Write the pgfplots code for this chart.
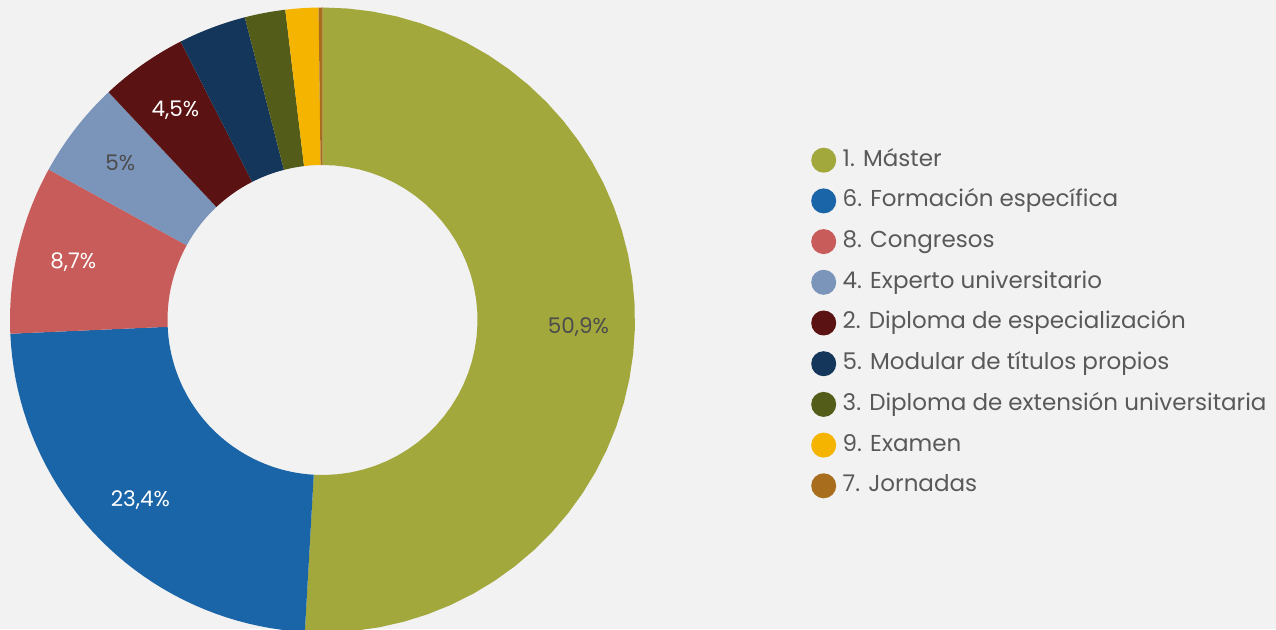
\documentclass[border=0pt]{standalone}
\usepackage{pgfplots}
\pgfplotsset{compat=1.18}
\usepackage{fontspec}
\setmainfont{Poppins}
\definecolor{bg}{HTML}{F2F2F2}
\definecolor{txt}{HTML}{595959}
\definecolor{c1}{HTML}{A2A83C}
\definecolor{c6}{HTML}{1A64A8}
\definecolor{c8}{HTML}{C85C5A}
\definecolor{c4}{HTML}{7A94BA}
\definecolor{c2}{HTML}{5A1212}
\definecolor{c5}{HTML}{14365A}
\definecolor{c3}{HTML}{535C19}
\definecolor{c9}{HTML}{F4B400}
\definecolor{c7}{HTML}{A86E1E}
% slice: start percent, end percent, colour, legend text
\newcommand\slice[4]{%
  \addplot[fill=#3, draw=none, samples at={0,1,...,81}, variable=\t]
   ({322.5+ifthenelse(\t<41,312.5,155)*sin(3.6*ifthenelse(\t<41,#1+(\t/40)*(#2-#1),#2-((\t-41)/40)*(#2-#1)))},
    {309+ifthenelse(\t<41,312.5,155)*cos(3.6*ifthenelse(\t<41,#1+(\t/40)*(#2-#1),#2-((\t-41)/40)*(#2-#1)))});
  \addlegendentry{#4}%
}
\newcommand\plabel[3]{% mid percent, colour, text
  \node[text=#2, font=\fontsize{21.5}{24}\selectfont] at (axis cs:{322.5+256*sin(3.6*#1)},{309+256*cos(3.6*#1)}) {#3};%
}
\begin{document}
\begin{tikzpicture}
\begin{axis}[
  width=1276pt, height=629pt, scale only axis,
  xmin=0, xmax=1276, ymin=0, ymax=629,
  axis lines=none, clip=true,
  axis background/.style={fill=bg},
  legend cell align=left,
  legend style={at={(axis cs:808,486)}, anchor=north west, draw=none, fill=none,
    font=\fontsize{23}{27}\selectfont, text=txt, row sep=10.7pt, column sep=0pt,
    nodes={text height=18pt, text depth=6pt, inner sep=3pt}},
  legend image code/.code={\path[fill=none,draw=none] (-12pt,-12pt) rectangle (16pt,12pt);\fill (0pt,0pt) circle (12.5pt);},
]
% values (%): 50.9, 23.4, 8.7, 5, 4.5, 3.5, 2.1, 1.7, 0.2
\slice{0}{50.9}{c1}{1. Máster}
\slice{50.9}{74.3}{c6}{6. Formación específica}
\slice{74.3}{83.0}{c8}{8. Congresos}
\slice{83.0}{88.0}{c4}{4. Experto universitario}
\slice{88.0}{92.5}{c2}{2. Diploma de especialización}
\slice{92.5}{96.0}{c5}{5. Modular de títulos propios}
\slice{96.0}{98.1}{c3}{3. Diploma de extensión universitaria}
\slice{98.1}{99.8}{c9}{9. Examen}
\slice{99.8}{100}{c7}{7. Jornadas}
\plabel{25.45}{black!70}{50,9\%}
\plabel{62.6}{white}{23,4\%}
\plabel{78.65}{white}{8,7\%}
\plabel{85.5}{black!70}{5\%}
\plabel{90.25}{white}{4,5\%}
\end{axis}
\end{tikzpicture}
\end{document}
